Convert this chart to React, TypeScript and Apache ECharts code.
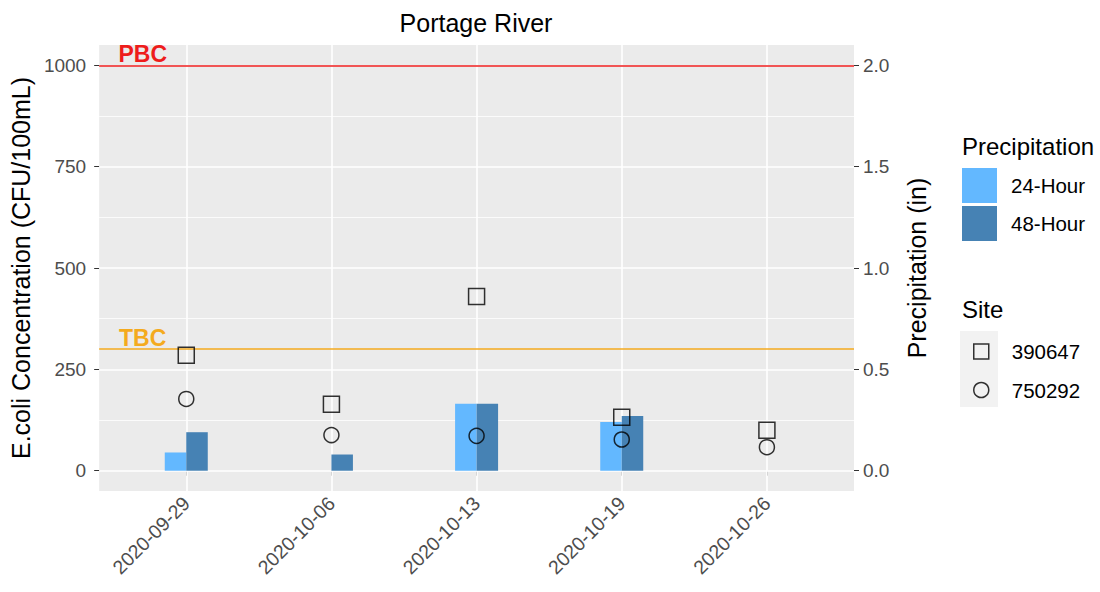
import React, { useEffect, useRef } from "react";
import * as echarts from "echarts";

const dates = ["2020-09-29", "2020-10-06", "2020-10-13", "2020-10-19", "2020-10-26"];
const ecoli390647 = [285, 164, 430, 132, 100];
const ecoli750292 = [177, 88, 86, 77, 58];
const precip24 = [0.09, 0, 0.33, 0.24, 0];
const precip48 = [0.19, 0.08, 0.33, 0.27, 0];
const leftTicks = [0, 250, 500, 750, 1000];
const leftMinor = [125, 375, 625, 875];
const rightTicks = [0, 0.5, 1, 1.5, 2];
const refLines = [
  { name: "PBC", value: 1000, color: "#EE1C1C" },
  { name: "TBC", value: 300, color: "#F4AA1E" },
];
const refLabelX = 0.7;
const X_MIN = 0.4;
const X_MAX = 5.6;
const Y_MIN = -50;
const Y_MAX = 1050;

const FONT = '"Liberation Sans", Arial, sans-serif';

export default function App() {
  const ref = useRef<HTMLDivElement>(null);
  useEffect(() => {
    if (!ref.current) return;
    const chart = echarts.init(ref.current, null, { renderer: "svg" });
    // discrete positions 1..n, as in a ggplot discrete axis
    const pos = dates.map((_, i) => i + 1);
    const option: any = {
      animation: false,
      backgroundColor: "#ffffff",
      textStyle: { fontFamily: FONT },
      title: {
        text: "Portage River",
        left: 471,
        textAlign: "center",
        top: 5,
        textStyle: { fontFamily: FONT, fontSize: 25, fontWeight: "normal", color: "#000" },
      },
      grid: {
        left: 99,
        right: 246,
        top: 45,
        bottom: 101,
        show: true,
        backgroundColor: "#EBEBEB",
        borderWidth: 0,
      },
      xAxis: {
        type: "value",
        min: X_MIN,
        max: X_MAX,
        axisLine: { show: false },
        splitLine: { show: false },
        axisTick: { show: true, customValues: pos, length: 5, lineStyle: { color: "#333" } },
        axisLabel: {
          customValues: pos,
          formatter: (v: number) => dates[Math.round(v) - 1] ?? "",
          rotate: 45,
          margin: 9,
          fontSize: 19.5,
          color: "#4D4D4D",
          fontFamily: FONT,
        },
      },
      yAxis: [
        {
          type: "value",
          min: Y_MIN,
          max: Y_MAX,
          position: "left",
          name: "E.coli Concentration (CFU/100mL)",
          nameLocation: "middle",
          nameGap: 54,
          nameTextStyle: { fontSize: 25, color: "#000", fontFamily: FONT },
          axisLine: { show: false },
          splitLine: { show: false },
          axisTick: { show: true, customValues: leftTicks, length: 5, lineStyle: { color: "#333" } },
          axisLabel: {
            customValues: leftTicks,
            formatter: (v: number) => String(v),
            fontSize: 19,
            color: "#4D4D4D",
            margin: 13,
            fontFamily: FONT,
          },
        },
        {
          type: "value",
          min: -0.1,
          max: 2.1,
          position: "right",
          name: "Precipitation (in)",
          nameLocation: "middle",
          nameRotate: 90,
          nameGap: 50,
          nameTextStyle: { fontSize: 25, color: "#000", fontFamily: FONT },
          axisLine: { show: false },
          splitLine: { show: false },
          axisTick: { show: true, customValues: rightTicks, length: 5, lineStyle: { color: "#333" } },
          axisLabel: {
            customValues: rightTicks,
            formatter: (v: number) => v.toFixed(1),
            fontSize: 19,
            color: "#4D4D4D",
            margin: 9,
            fontFamily: FONT,
          },
        },
      ],
      legend: [
        {
          data: ["24-Hour", "48-Hour"],
          orient: "vertical",
          left: 962,
          top: 168,
          padding: 0,
          itemWidth: 35,
          itemHeight: 35,
          itemGap: 3,
          icon: "rect",
          selectedMode: false,
          textStyle: { fontSize: 20.5, color: "#000", fontFamily: FONT, padding: [0, 0, 0, 9] },
        },
        {
          data: [
            { name: "390647", icon: "rect", itemStyle: { color: "rgba(0,0,0,0)", borderColor: "#000", borderWidth: 1.5 } },
            { name: "750292", icon: "circle", itemStyle: { color: "rgba(0,0,0,0)", borderColor: "#000", borderWidth: 1.5 } },
          ],
          orient: "vertical",
          left: 973,
          top: 341,
          padding: 0,
          itemWidth: 15,
          itemHeight: 15,
          itemGap: 17.5,
          selectedMode: false,
          textStyle: { fontSize: 20.5, color: "#000", fontFamily: FONT, padding: [0, 0, 0, 18] },
        },
      ],
      graphic: [
        {
          type: "text",
          left: 962,
          top: 134,
          style: { text: "Precipitation", fontSize: 24, fill: "#000", fontFamily: FONT },
        },
        {
          type: "text",
          left: 962,
          top: 297,
          style: { text: "Site", fontSize: 24, fill: "#000", fontFamily: FONT },
        },
        {
          type: "rect",
          left: 960,
          top: 331,
          z: -1,
          shape: { width: 38, height: 76 },
          style: { fill: "#F2F2F2" },
        },
      ],
      series: [
        {
          name: "grid",
          type: "line",
          data: [],
          silent: true,
          z: 1,
          markLine: {
            silent: true,
            z: 1,
            symbol: ["none", "none"],
            label: { show: false },
            data: [
              ...leftMinor.map((v) => ({ yAxis: v, lineStyle: { color: "#fff", width: 0.8, type: "solid" } })),
              ...leftTicks.map((v) => ({ yAxis: v, lineStyle: { color: "#fff", width: 1.6, type: "solid" } })),
              ...pos.map((v) => ({ xAxis: v, lineStyle: { color: "#fff", width: 1.6, type: "solid" } })),
            ],
          },
        },
        {
          name: "24-Hour",
          type: "bar",
          yAxisIndex: 1,
          barWidth: 21.5,
          barGap: "0%",
          z: 2,
          itemStyle: { color: "#63B8FF" },
          data: pos.map((p, i) => [p, precip24[i]]),
        },
        {
          name: "48-Hour",
          type: "bar",
          yAxisIndex: 1,
          barWidth: 21.5,
          barGap: "0%",
          z: 2,
          itemStyle: { color: "#4682B4" },
          data: pos.map((p, i) => [p, precip48[i]]),
        },
        {
          name: "ref",
          type: "line",
          data: [],
          silent: true,
          z: 3,
          markLine: {
            silent: true,
            z: 3,
            symbol: ["none", "none"],
            label: { show: false },
            data: refLines.map((r) => ({ yAxis: r.value, lineStyle: { color: r.color, width: 1.5, type: "solid" } })),
          },
          markPoint: {
            silent: true,
            z: 3,
            symbol: "circle",
            symbolSize: 0,
            data: refLines.map((r) => ({
              coord: [refLabelX, r.value],
              label: {
                show: true,
                formatter: r.name,
                position: "inside",
                offset: [0, -11],
                fontSize: 23,
                fontWeight: "bold",
                color: r.color,
                fontFamily: FONT,
              },
            })),
          },
        },
        {
          name: "390647",
          type: "scatter",
          symbol: "rect",
          symbolSize: 16,
          z: 4,
          itemStyle: { color: "rgba(0,0,0,0)", borderColor: "#000", borderWidth: 1.5 },
          data: pos.map((p, i) => [p, ecoli390647[i]]),
        },
        {
          name: "750292",
          type: "scatter",
          symbol: "circle",
          symbolSize: 15,
          z: 4,
          itemStyle: { color: "rgba(0,0,0,0)", borderColor: "#000", borderWidth: 1.5 },
          data: pos.map((p, i) => [p, ecoli750292[i]]),
        },
      ],
    };
    chart.setOption(option);
    return () => chart.dispose();
  }, []);
  return (
    <div
      ref={ref}
      style={{ position: "fixed", left: 0, top: 0, width: 1100, height: 592, background: "#fff" }}
    />
  );
}
